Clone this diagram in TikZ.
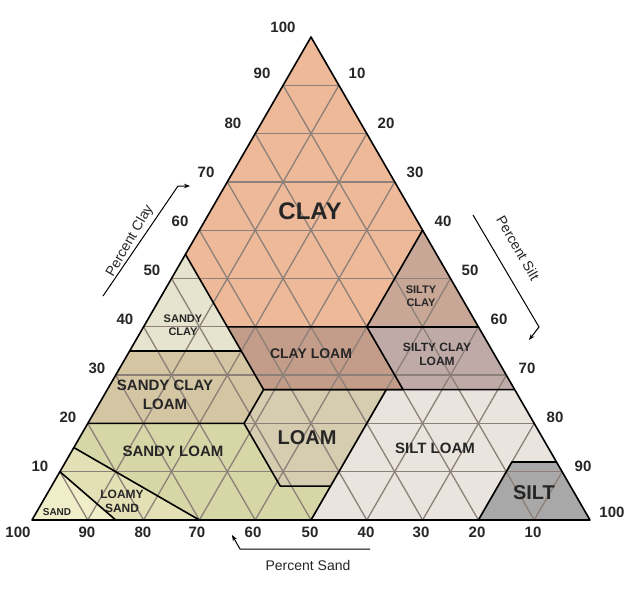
\documentclass[tikz,border=0pt]{standalone}
\usepackage{fontspec}
\setmainfont{Liberation Sans}
\usetikzlibrary{arrows.meta}
\newcommand\defpt[3]{\coordinate (#1) at ({32+5.58*(100-#2-#3/2)},{520-4.83*#3});}
\begin{document}
\begin{tikzpicture}[x=1pt,y=-1pt,
  bnd/.style={draw=black,line width=1.6pt,line join=round},
  grid/.style={draw=gridc,line width=1.3pt},
  reg/.style={font=\bfseries\fontsize{14}{15}\selectfont,align=center,text=black!85},
  tick/.style={font=\bfseries\fontsize{15}{16}\selectfont,text=black!85},
  ttl/.style={font=\fontsize{14}{15}\selectfont,text=black!85,inner sep=1pt}]
\definecolor{gridc}{HTML}{8C8078}
\useasboundingbox (0,0) rectangle (640,597);
\fill[white] (0,0) rectangle (640,597);
\defpt{T}{0}{100}\defpt{L}{100}{0}\defpt{R}{0}{0}
\defpt{a}{0}{60}\defpt{b}{20}{40}\defpt{c}{45}{40}\defpt{d}{45}{55}
\defpt{e}{0}{40}\defpt{f}{65}{35}\defpt{g}{45}{35}
\defpt{h}{45}{27}\defpt{i}{20}{27}\defpt{j}{0}{27}\defpt{k}{80}{20}
\defpt{l}{52}{20}\defpt{m}{52}{7}\defpt{n}{43}{7}\defpt{o}{23}{27}
\defpt{p}{50}{0}\defpt{q}{20}{0}\defpt{r}{8}{12}\defpt{s}{0}{12}
\defpt{t}{70}{0}\defpt{u}{85}{15}\defpt{v}{90}{10}\defpt{w}{85}{0}
% fills
\fill[fill={rgb,255:red,237;green,185;blue,153}] (T)--(a)--(b)--(c)--(d)--cycle;
\fill[fill={rgb,255:red,200;green,167;blue,151}] (a)--(e)--(b)--cycle;
\fill[fill={rgb,255:red,230;green,227;blue,206}] (d)--(f)--(g)--cycle;
\fill[fill={rgb,255:red,196;green,156;blue,138}] (b)--(c)--(h)--(i)--cycle;
\fill[fill={rgb,255:red,191;green,170;blue,168}] (e)--(b)--(i)--(j)--cycle;
\fill[fill={rgb,255:red,212;green,197;blue,163}] (g)--(f)--(k)--(l)--(h)--cycle;
\fill[fill={rgb,255:red,214;green,205;blue,176}] (h)--(l)--(m)--(n)--(o)--cycle;
\fill[fill={rgb,255:red,234;green,228;blue,222}] (j)--(o)--(n)--(p)--(q)--(r)--(s)--cycle;
\fill[fill={rgb,255:red,168;green,168;blue,168}] (s)--(r)--(q)--(R)--cycle;
\fill[fill={rgb,255:red,215;green,214;blue,166}] (k)--(l)--(m)--(n)--(p)--(t)--(u)--cycle;
\fill[fill={rgb,255:red,228;green,224;blue,181}] (u)--(t)--(w)--(v)--cycle;
\fill[fill={rgb,255:red,240;green,238;blue,200}] (v)--(w)--(L)--cycle;
% grid
\foreach \g in {10,20,...,90}{
  \draw[grid] ({32+5.58*(\g/2)},{520-4.83*\g}) -- ({32+5.58*(100-\g/2)},{520-4.83*\g});
  \draw[grid] ({32+5.58*(100-\g)},520) -- ({32+5.58*(100-\g-(100-\g)/2)},{520-4.83*(100-\g)});
  \draw[grid] ({32+5.58*\g},520) -- ({32+5.58*(\g+(100-\g)/2)},{520-4.83*(100-\g)});
}
% boundaries
\draw[bnd] (a)--(b)--(c)--(d);
\draw[bnd] (e)--(b);
\draw[bnd] (f)--(g)--(c);
\draw[bnd] (g)--(h)--(i)--(b);
\draw[bnd] (j)--(o)--(h)--(l)--(k);
\draw[bnd] (l)--(m)--(n)--(o);
\draw[bnd] (n)--(p);
\draw[bnd] (s)--(r)--(q);
\draw[bnd] (u)--(t);
\draw[bnd] (v)--(w);
\draw[bnd] (T)--(L)--(R)--cycle;
% region labels
\node[reg,font=\bfseries\fontsize{24}{26}\selectfont] (lclay) at (310,211) {CLAY};
\node[reg,font=\bfseries\fontsize{11}{13}\selectfont] (lsic) at (421,296) {SILTY\\CLAY};
\node[reg,font=\bfseries\fontsize{11}{13}\selectfont] (lsc) at (183,325) {SANDY\\CLAY};
\node[reg] (lcl) at (311,354) {CLAY LOAM};
\node[reg,font=\bfseries\fontsize{12}{14}\selectfont] (lsicl) at (437,354) {SILTY CLAY\\LOAM};
\node[reg,font=\bfseries\fontsize{15}{19}\selectfont] (lscl) at (165,395) {SANDY CLAY\\LOAM};
\node[reg,font=\bfseries\fontsize{20}{22}\selectfont] (lloam) at (307,438) {LOAM};
\node[reg,font=\bfseries\fontsize{15}{16}\selectfont] (lsil) at (435,448) {SILT LOAM};
\node[reg,font=\bfseries\fontsize{15}{16}\selectfont] (lsl) at (173,451) {SANDY LOAM};
\node[reg,font=\bfseries\fontsize{12}{14}\selectfont] (lls) at (122,501) {LOAMY\\SAND};
\node[reg,font=\bfseries\fontsize{10}{12}\selectfont] (lsand) at (57,512) {SAND};
\node[reg,font=\bfseries\fontsize{20}{22}\selectfont] (lsilt) at (534,493) {SILT};
% ticks
\node[tick] (tc100) at (283,27) {100};
\foreach \v/\x/\y in {90/262/73,80/233/123,70/206/172,60/180/221,50/152/270,40/125/319,30/97/368,20/68/417,10/40/466}
  \node[tick] (tc\v) at (\x,\y) {\v};
\foreach \v/\x/\y in {10/357/73,20/386/123,30/415/172,40/443/221,50/470/270,60/499/319,70/527/368,80/555/417,90/583/466,100/612/512}
  \node[tick] (ts\v) at (\x,\y) {\v};
\foreach \v/\x in {100/18,90/87,80/143,70/197,60/253,50/310,40/366,30/421,20/477,10/533}
  \node[tick] (ta\v) at (\x,532) {\v};
% axis titles
\node[ttl,rotate=60] (pclay) at (130,241) {Percent Clay};
\coordinate (c1) at (103,296); \coordinate (c2) at (178,186); \coordinate (c3) at (190,186);
\draw[line width=1pt,-{Stealth[length=6pt]}] (c1)--(c2)--(c3);
\node[ttl,rotate=-60] (psilt) at (518,248) {Percent Silt};
\coordinate (s1) at (473,215); \coordinate (s2) at (539,327); \coordinate (s3) at (529,340);
\draw[line width=1pt,-{Stealth[length=6pt]}] (s1)--(s2)--(s3);
\node[ttl] (psand) at (308,565) {Percent Sand};
\coordinate (a1) at (370,549); \coordinate (a2) at (240,549); \coordinate (a3) at (232,535);
\draw[line width=1pt,-{Stealth[length=6pt]}] (a1)--(a2)--(a3);
\end{tikzpicture}
\end{document}
